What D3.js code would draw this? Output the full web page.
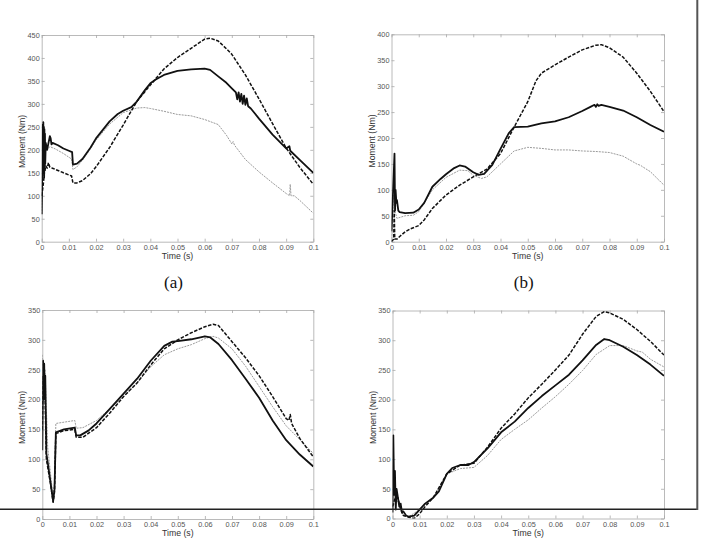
<!DOCTYPE html>
<html><head><meta charset="utf-8">
<script src="https://cdn.jsdelivr.net/npm/d3@7"></script>
<style>body{margin:0;background:#fff}svg{display:block}</style>
</head><body><svg id="c" width="703" height="539"></svg>
<script>
const xTicks = [0,0.01,0.02,0.03,0.04,0.05,0.06,0.07,0.08,0.09,0.1];
const xTickLabels = ["0","0.01","0.02","0.03","0.04","0.05","0.06","0.07","0.08","0.09","0.1"];
const aYTicks = [0,50,100,150,200,250,300,350,400,450];
const bYTicks = [0,50,100,150,200,250,300,350,400];
const cdYTicks = [0,50,100,150,200,250,300,350];
const panelLabels = ["(a)","(b)","",""];
const xTitle = "Time (s)";
const yTitle = "Moment (Nm)";

const aSolid = [[0,60],[0.0002,150],[0.0004,255],[0.0005,160],[0.0006,260],[0.0007,150],[0.0008,250],[0.0009,140],[0.001,245],[0.0011,155],[0.0012,235],[0.0013,170],[0.0015,215],[0.0018,205],[0.002,200],[0.0025,215],[0.003,230],[0.0033,225],[0.0036,212],[0.004,215],[0.006,210],[0.008,203],[0.01,198],[0.0112,195],[0.0115,168],[0.013,170],[0.015,180],[0.018,205],[0.02,225],[0.025,262],[0.028,278],[0.03,285],[0.033,293],[0.035,305],[0.038,330],[0.04,345],[0.042,353],[0.045,363],[0.05,372],[0.055,375],[0.06,377],[0.062,374],[0.065,360],[0.068,346],[0.07,334],[0.0715,325],[0.072,310],[0.0725,325],[0.073,305],[0.0735,322],[0.074,300],[0.0745,318],[0.075,298],[0.0755,312],[0.076,295],[0.077,290],[0.08,268],[0.085,233],[0.09,203],[0.0912,208],[0.0915,198],[0.095,178],[0.1,150]];
const aDashed = [[0,100],[0.0005,120],[0.001,150],[0.0015,165],[0.002,160],[0.0025,172],[0.003,162],[0.004,160],[0.006,155],[0.008,150],[0.011,143],[0.0115,128],[0.013,128],[0.015,133],[0.018,148],[0.02,163],[0.025,205],[0.03,254],[0.033,285],[0.035,305],[0.04,341],[0.045,376],[0.05,401],[0.055,421],[0.06,441],[0.062,443],[0.065,437],[0.068,420],[0.07,408],[0.075,363],[0.08,311],[0.085,257],[0.09,204],[0.095,162],[0.1,125]];
const aGray = [[0,60],[0.0003,180],[0.0005,255],[0.0007,200],[0.001,240],[0.0013,200],[0.002,200],[0.003,207],[0.005,202],[0.008,192],[0.011,180],[0.0115,157],[0.013,163],[0.016,185],[0.02,221],[0.025,256],[0.03,281],[0.035,291],[0.038,292],[0.04,290],[0.045,284],[0.05,277],[0.055,274],[0.06,266],[0.065,255],[0.068,232],[0.07,213],[0.0705,218],[0.071,210],[0.075,179],[0.08,152],[0.085,128],[0.09,105],[0.0913,100],[0.0915,125],[0.0918,100],[0.093,100],[0.095,90],[0.1,62]];

const bSolid = [[0,20],[0.0003,60],[0.0006,100],[0.0011,170],[0.0013,60],[0.0015,100],[0.0018,75],[0.002,80],[0.0025,60],[0.003,57],[0.005,55],[0.008,56],[0.01,62],[0.012,75],[0.015,106],[0.018,121],[0.02,130],[0.023,142],[0.025,147],[0.027,145],[0.03,134],[0.032,129],[0.034,131],[0.037,148],[0.04,179],[0.043,209],[0.045,221],[0.05,222],[0.055,228],[0.06,232],[0.065,240],[0.07,252],[0.073,260],[0.0745,264],[0.075,260],[0.0755,265],[0.076,262],[0.077,264],[0.08,260],[0.085,253],[0.09,240],[0.095,225],[0.1,212]];
const bDashed = [[0,0],[0.0008,5],[0.001,60],[0.0012,5],[0.002,5],[0.003,10],[0.005,19],[0.007,25],[0.01,31],[0.012,42],[0.015,64],[0.02,90],[0.025,109],[0.03,125],[0.035,140],[0.04,170],[0.045,221],[0.05,270],[0.053,310],[0.055,325],[0.06,341],[0.065,356],[0.07,370],[0.075,379],[0.077,380],[0.08,374],[0.085,356],[0.09,325],[0.095,290],[0.1,251]];
const bGray = [[0,0],[0.0008,90],[0.0012,60],[0.002,45],[0.005,50],[0.008,51],[0.01,58],[0.015,100],[0.02,124],[0.025,138],[0.028,137],[0.03,128],[0.033,122],[0.035,125],[0.04,150],[0.045,175],[0.05,182],[0.055,180],[0.06,177],[0.065,177],[0.07,175],[0.075,174],[0.08,172],[0.085,165],[0.09,150],[0.0915,147],[0.092,145],[0.095,135],[0.1,109]];

const cSolid = [[0,115],[0.0003,265],[0.0005,200],[0.0007,260],[0.0009,205],[0.0011,240],[0.0015,110],[0.002,95],[0.003,62],[0.004,30],[0.0045,50],[0.005,145],[0.008,150],[0.012,153],[0.0125,140],[0.014,140],[0.017,148],[0.02,160],[0.025,185],[0.028,200],[0.03,210],[0.035,235],[0.04,265],[0.045,290],[0.048,297],[0.05,298],[0.055,301],[0.06,306],[0.062,304],[0.065,293],[0.07,266],[0.075,235],[0.08,203],[0.085,165],[0.09,132],[0.095,108],[0.1,88]];
const cDashed = [[0,150],[0.0003,240],[0.0006,200],[0.0009,230],[0.0015,100],[0.003,60],[0.004,28],[0.0045,45],[0.005,143],[0.008,148],[0.012,150],[0.0125,137],[0.015,137],[0.02,153],[0.025,178],[0.03,205],[0.035,228],[0.04,258],[0.045,285],[0.05,300],[0.055,312],[0.06,322],[0.063,326],[0.065,324],[0.07,297],[0.075,270],[0.08,240],[0.085,205],[0.09,168],[0.091,165],[0.0915,175],[0.092,160],[0.095,135],[0.1,104]];
const cGray = [[0,275],[0.0005,240],[0.001,250],[0.002,120],[0.004,35],[0.0045,60],[0.005,160],[0.012,165],[0.0125,152],[0.015,153],[0.02,165],[0.025,185],[0.03,205],[0.035,228],[0.04,255],[0.045,275],[0.05,285],[0.055,292],[0.06,302],[0.063,306],[0.065,303],[0.07,285],[0.075,256],[0.08,222],[0.085,188],[0.09,156],[0.095,133],[0.1,110]];

const dSolid = [[0,10],[0.0003,140],[0.0006,40],[0.0009,80],[0.0012,15],[0.0015,50],[0.002,35],[0.0025,20],[0.003,25],[0.0035,10],[0.004,12],[0.005,5],[0.006,3],[0.008,5],[0.01,15],[0.012,25],[0.015,35],[0.017,45],[0.02,75],[0.022,85],[0.025,90],[0.028,90],[0.03,95],[0.035,118],[0.04,145],[0.045,163],[0.05,186],[0.055,206],[0.06,224],[0.065,242],[0.07,266],[0.075,292],[0.078,302],[0.08,300],[0.085,289],[0.09,275],[0.095,259],[0.1,240]];
const dDashed = [[0,20],[0.001,35],[0.002,35],[0.003,15],[0.004,5],[0.006,2],[0.008,0],[0.01,8],[0.012,20],[0.015,35],[0.02,75],[0.025,90],[0.03,93],[0.035,120],[0.04,152],[0.045,176],[0.05,203],[0.055,226],[0.06,250],[0.065,275],[0.07,310],[0.075,340],[0.078,348],[0.08,346],[0.085,335],[0.09,318],[0.095,298],[0.1,275]];
const dGray = [[0,20],[0.002,30],[0.004,5],[0.006,3],[0.01,15],[0.015,35],[0.02,75],[0.025,84],[0.03,86],[0.035,106],[0.04,133],[0.045,150],[0.05,166],[0.055,186],[0.06,205],[0.065,226],[0.07,249],[0.075,276],[0.08,291],[0.085,291],[0.09,282],[0.092,280],[0.095,268],[0.1,255]];

const panels = [
  {x0:41.7,x1:313.3,y0:241.7,y1:35,ymax:450,yt:aYTicks,s:[aGray,aDashed,aSolid],lab:panelLabels[0]},
  {x0:391.5,x1:664,y0:241.7,y1:34.3,ymax:400,yt:bYTicks,s:[bGray,bDashed,bSolid],lab:panelLabels[1]},
  {x0:42.3,x1:313.3,y0:519,y1:310,ymax:350,yt:cdYTicks,s:[cGray,cDashed,cSolid],lab:panelLabels[2]},
  {x0:392.5,x1:664,y0:518.5,y1:310.5,ymax:350,yt:cdYTicks,s:[dGray,dDashed,dSolid],lab:panelLabels[3]}
];
const styles = [
  {stroke:"#9a9a9a",w:1,dash:"2,1"},
  {stroke:"#111",w:1.5,dash:"3.5,1.5"},
  {stroke:"#111",w:1.8,dash:null}
];
const svg = d3.select("#c");
const font = "Liberation Sans, Arial, sans-serif";
panels.forEach((p,i)=>{
  const x = d3.scaleLinear().domain([0,0.1]).range([p.x0,p.x1]);
  const y = d3.scaleLinear().domain([0,p.ymax]).range([p.y0,p.y1]);
  const g = svg.append("g");
  const axisCol = "#a8a8a8";
  const xb = g.append("g").attr("transform",`translate(0,${p.y0})`)
    .call(d3.axisBottom(x).tickValues(xTicks).tickFormat((d,k)=>xTickLabels[k]).tickSizeInner(-3).tickSizeOuter(0).tickPadding(4));
  const xt = g.append("g").attr("transform",`translate(0,${p.y1})`)
    .call(d3.axisTop(x).tickValues(xTicks).tickFormat("").tickSizeInner(-3).tickSizeOuter(0));
  const yl = g.append("g").attr("transform",`translate(${p.x0},0)`)
    .call(d3.axisLeft(y).tickValues(p.yt).tickFormat(d3.format("d")).tickSizeInner(-3).tickSizeOuter(0).tickPadding(2));
  const yr = g.append("g").attr("transform",`translate(${p.x1},0)`)
    .call(d3.axisRight(y).tickValues(p.yt).tickFormat("").tickSizeInner(-3).tickSizeOuter(0));
  [xb,xt,yl,yr].forEach(a=>{
    a.selectAll("path").attr("stroke",axisCol).attr("stroke-width",0.8);
    a.selectAll("line").attr("stroke",axisCol).attr("stroke-width",0.8);
    a.selectAll("text").attr("fill","#555").style("font-family",font).style("font-size","7.3px");
  });
  xb.selectAll("text").attr("dy","0.55em");
  const cid = "clip"+i;
  svg.append("clipPath").attr("id",cid).append("rect")
    .attr("x",p.x0).attr("y",p.y1).attr("width",p.x1-p.x0).attr("height",p.y0-p.y1);
  const line = d3.line().x(d=>x(d[0])).y(d=>y(d[1]));
  const lg = svg.append("g").attr("clip-path",`url(#${cid})`);
  p.s.forEach((ser,k)=>{
    const st = styles[k];
    lg.append("path").datum(ser).attr("d",line).attr("fill","none")
      .attr("stroke",st.stroke).attr("stroke-width",st.w)
      .attr("stroke-dasharray",st.dash).attr("stroke-linejoin","round");
  });
  const cx = (p.x0+p.x1)/2;
  svg.append("text").attr("x",cx).attr("y",p.y0+17).attr("text-anchor","middle")
    .style("font-family",font).style("font-size","8.7px").attr("fill","#333").text(xTitle);
  svg.append("text").attr("transform",`translate(${p.x0-17},${(p.y0+p.y1)/2+3}) rotate(-90)`)
    .attr("text-anchor","middle").style("font-family",font).style("font-size","8.7px").attr("fill","#333").text(yTitle);
  if(p.lab){
    svg.append("text").attr("x",cx-4).attr("y",p.y0+46).attr("text-anchor","middle")
      .style("font-family","Liberation Serif, Times New Roman, serif").style("font-size","17px").attr("fill","#111").text(p.lab);
  }
});
svg.append("line").attr("x1",0).attr("x2",697.5).attr("y1",509.3).attr("y2",509.3).attr("stroke","#222").attr("stroke-width",1.6);
svg.append("line").attr("x1",697.3).attr("x2",697.3).attr("y1",0).attr("y2",510).attr("stroke","#555").attr("stroke-width",2);
</script></body></html>
